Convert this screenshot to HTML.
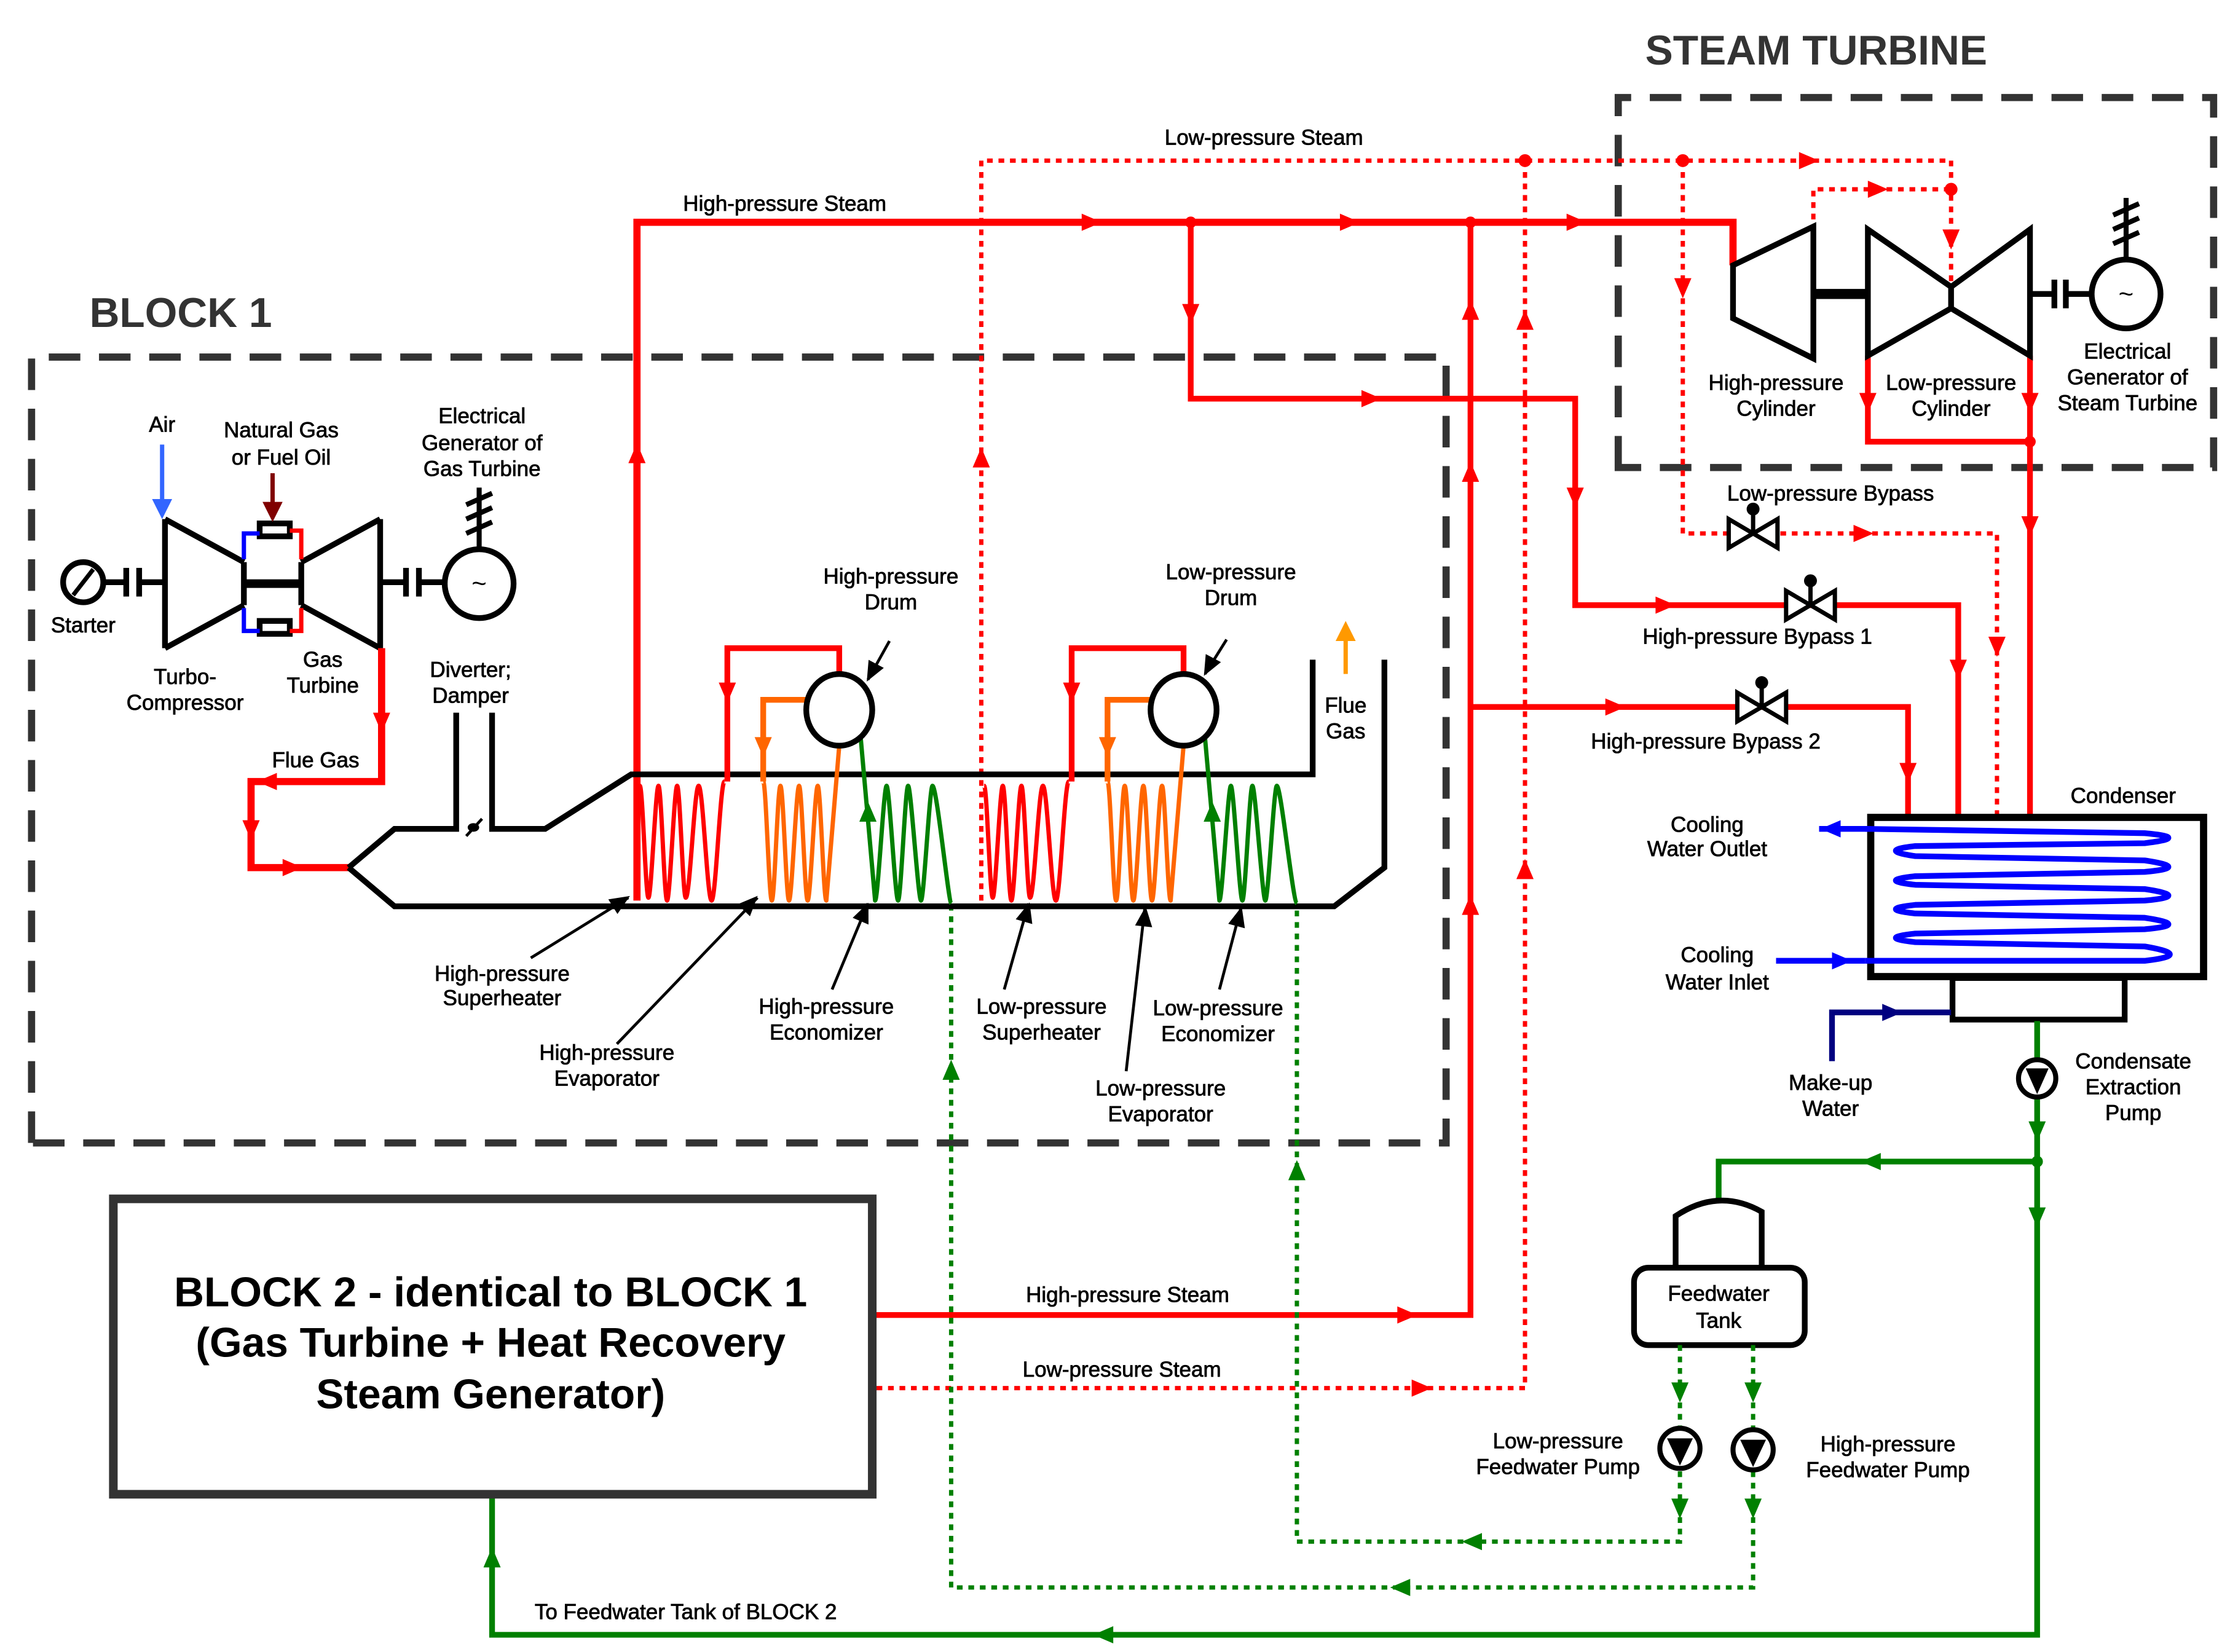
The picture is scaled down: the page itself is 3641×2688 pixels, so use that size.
<!DOCTYPE html>
<html><head><meta charset="utf-8"><style>html,body{margin:0;padding:0;background:#fff}svg{display:block}text{font-family:"Liberation Sans Narrow","Liberation Sans",sans-serif;font-size:15px;fill:#000;stroke:#000;stroke-width:0.35;text-anchor:middle}</style></head>
<body>
<svg width="3641" height="2688" viewBox="0 0 1560 1152" preserveAspectRatio="none" xmlns="http://www.w3.org/2000/svg">
<defs>
<path id="a" d="M-8,-6 L6,0 L-8,6 Z"/>
</defs>
<rect width="1560" height="1152" fill="#fff"/>

<g fill="none" stroke="#333" stroke-width="5" stroke-dasharray="22 13">
<path d="M22,797 L22,249 L1008,249 L1008,797 Z"/>
<path d="M1128,326 L1128,68 L1543,68 L1543,326 Z"/>
</g>
<text x="126" y="228" style="font-family:'Liberation Sans',sans-serif;font-size:29px;font-weight:bold;fill:#333;stroke:none">BLOCK 1</text>
<text x="1266" y="45" style="font-family:'Liberation Sans',sans-serif;font-size:29px;font-weight:bold;fill:#333;stroke:none">STEAM TURBINE</text>

<g fill="none" stroke="#f00" stroke-linejoin="miter">
<path d="M444,628 L444,155 L1208,155 L1208,185" stroke-width="5"/>
<path d="M830,155 L830,278 L1098,278 L1098,422 L1365,422 L1365,568" stroke-width="4"/>
<path d="M1025,155 L1025,917 L610,917" stroke-width="4"/>
<path d="M1025,493 L1330,493 L1330,568" stroke-width="4"/>
<path d="M1302,248 L1302,308 L1415,308 M1415,248 L1415,568" stroke-width="4"/>
</g>
<g fill="#f00">
<use href="#a" transform="translate(444,315) rotate(-90)"/>
<use href="#a" transform="translate(762,155)"/>
<use href="#a" transform="translate(942,155)"/>
<use href="#a" transform="translate(1100,155)"/>
<use href="#a" transform="translate(830,220) rotate(90)"/>
<use href="#a" transform="translate(957,278)"/>
<use href="#a" transform="translate(1098,348) rotate(90)"/>
<use href="#a" transform="translate(1162,422)"/>
<use href="#a" transform="translate(1365,468) rotate(90)"/>
<use href="#a" transform="translate(1025,215) rotate(-90)"/>
<use href="#a" transform="translate(1025,328) rotate(-90)"/>
<use href="#a" transform="translate(1025,630) rotate(-90)"/>
<use href="#a" transform="translate(982,917)"/>
<use href="#a" transform="translate(1127,493)"/>
<use href="#a" transform="translate(1330,540) rotate(90)"/>
<use href="#a" transform="translate(1302,282) rotate(90)"/>
<use href="#a" transform="translate(1415,282) rotate(90)"/>
<use href="#a" transform="translate(1415,368) rotate(90)"/>
<circle cx="830" cy="155" r="4"/><circle cx="1025" cy="155" r="4"/><circle cx="1415" cy="308" r="4"/>
</g>

<g fill="none" stroke="#f00" stroke-width="3" stroke-dasharray="4 4">
<path d="M684,628 L684,112 L1360,112 L1360,200"/>
<path d="M1264,185 L1264,132 L1360,132"/>
<path d="M1063,112 L1063,968 L610,968"/>
<path d="M1173,112 L1173,372 L1392,372 L1392,568"/>
</g>
<g fill="#f00">
<use href="#a" transform="translate(684,318) rotate(-90)"/>
<use href="#a" transform="translate(1262,112)"/>
<use href="#a" transform="translate(1310,132)"/>
<use href="#a" transform="translate(1360,168) rotate(90)"/>
<use href="#a" transform="translate(1063,222) rotate(-90)"/>
<use href="#a" transform="translate(1063,605) rotate(-90)"/>
<use href="#a" transform="translate(992,968)"/>
<use href="#a" transform="translate(1173,202) rotate(90)"/>
<use href="#a" transform="translate(1300,372)"/>
<use href="#a" transform="translate(1392,452) rotate(90)"/>
<circle cx="1063" cy="112" r="4.5"/><circle cx="1173" cy="112" r="4.5"/><circle cx="1360" cy="132" r="4.5"/>
</g>

<g stroke="#000" stroke-width="3" fill="#fff">
<path d="M1205,362 L1222,372 L1205,382 Z M1239,362 L1222,372 L1239,382 Z"/>
<path d="M1245,412 L1262,422 L1245,432 Z M1279,412 L1262,422 L1279,432 Z"/>
<path d="M1211,483 L1228,493 L1211,503 Z M1245,483 L1228,493 L1245,503 Z"/>
<path d="M1222,372 V357 M1262,422 V407 M1228,493 V478"/>
</g>
<g fill="#000"><circle cx="1222" cy="355" r="4.5"/><circle cx="1262" cy="405" r="4.5"/><circle cx="1228" cy="476" r="4.5"/></g>
<text x="1276" y="349">Low-pressure Bypass</text>
<text x="1225" y="449">High-pressure Bypass 1</text>
<text x="1189" y="522">High-pressure Bypass 2</text>
<text x="547" y="147">High-pressure Steam</text>
<text x="881" y="101">Low-pressure Steam</text>
<text x="786" y="908">High-pressure Steam</text>
<text x="782" y="960">Low-pressure Steam</text>

<g fill="none" stroke="#000" stroke-width="4">
<path d="M1208,185 L1264,158 L1264,250 L1208,222 Z"/>
<path d="M1302,160 L1360,200 L1415,160 L1415,248 L1360,215 L1302,248 Z M1360,200 V215"/>
<path d="M1415,205 H1432 M1440,205 H1458"/>
<path d="M1432,195 V215 M1440,195 V215"/>
<circle cx="1482" cy="205" r="24" fill="#fff"/>
<path d="M1482,181 V138 M1473,150 L1491,142 M1473,160 L1491,152 M1473,170 L1491,162" stroke-width="3.5"/>
</g>
<path d="M1264,205 H1302" stroke="#000" stroke-width="7"/>
<text x="1482" y="211" style="font-size:18px;stroke:none">~</text>
<text x="1238" y="272">High-pressure</text><text x="1238" y="290">Cylinder</text>
<text x="1360" y="272">Low-pressure</text><text x="1360" y="290">Cylinder</text>
<text x="1483" y="250">Electrical</text><text x="1483" y="268">Generator of</text><text x="1483" y="286">Steam Turbine</text>

<rect x="1304" y="570" width="232" height="111" fill="#fff" stroke="#000" stroke-width="5"/>
<rect x="1361" y="682" width="120" height="29" fill="#fff" stroke="#000" stroke-width="4"/>
<path d="M1300,578 L1495,581 Q1528,584 1495,588 L1335,590 Q1308,593 1335,597 L1495,600 Q1528,605 1495,608 L1335,611 Q1308,614 1335,617 L1495,620 Q1528,625 1495,628 L1335,631 Q1308,634 1335,637 L1495,640 Q1528,645 1495,648 L1335,651 Q1308,654 1335,657 L1495,660 Q1530,666 1495,670 L1300,670" fill="none" stroke="#00f" stroke-width="4" stroke-linejoin="round"/>
<path d="M1304,578 L1268,578 M1238,670 L1300,670" stroke="#00f" stroke-width="4"/>
<g fill="#00f"><use href="#a" transform="translate(1275,578) rotate(180)"/><use href="#a" transform="translate(1285,670)"/></g>
<text x="1480" y="560">Condenser</text>
<text x="1190" y="580">Cooling</text><text x="1190" y="597">Water Outlet</text>
<text x="1197" y="671">Cooling</text><text x="1197" y="690">Water Inlet</text>
<path d="M1277,740 V706 H1360" fill="none" stroke="#000080" stroke-width="4"/>
<use href="#a" transform="translate(1320,706)" fill="#000080"/>
<text x="1276" y="760">Make-up</text><text x="1276" y="778">Water</text>

<g fill="none" stroke="#008000" stroke-width="4">
<path d="M1420,712 V1140 H343 V1043"/>
<path d="M1420,810 H1198 V845"/>
</g>
<g fill="#008000">
<use href="#a" transform="translate(1420,790) rotate(90)"/>
<use href="#a" transform="translate(1420,850) rotate(90)"/>
<use href="#a" transform="translate(1303,810) rotate(180)"/>
<use href="#a" transform="translate(768,1140) rotate(180)"/>
<use href="#a" transform="translate(343,1085) rotate(-90)"/>
<circle cx="1420" cy="810" r="4"/>
</g>
<text x="1487" y="745">Condensate</text><text x="1487" y="763">Extraction</text><text x="1487" y="781">Pump</text>
<text x="478" y="1129">To Feedwater Tank of BLOCK 2</text>

<path d="M1168,884 V848 Q1198,828 1228,845 V884" fill="#fff" stroke="#000" stroke-width="4"/>
<rect x="1139" y="884" width="119" height="54" rx="10" fill="#fff" stroke="#000" stroke-width="4"/>
<text x="1198" y="907">Feedwater</text><text x="1198" y="926">Tank</text>

<g fill="none" stroke="#008000" stroke-width="3" stroke-dasharray="4 4">
<path d="M1171,938 V1075 H904 V630"/>
<path d="M1222,938 V1107 H663 V630"/>
</g>
<g fill="#008000">
<use href="#a" transform="translate(1171,972) rotate(90)"/>
<use href="#a" transform="translate(1222,972) rotate(90)"/>
<use href="#a" transform="translate(1171,1053) rotate(90)"/>
<use href="#a" transform="translate(1222,1053) rotate(90)"/>
<use href="#a" transform="translate(1025,1075) rotate(180)"/>
<use href="#a" transform="translate(975,1107) rotate(180)"/>
<use href="#a" transform="translate(904,815) rotate(-90)"/>
<use href="#a" transform="translate(663,745) rotate(-90)"/>
</g>
<g stroke="#000" stroke-width="3.5" fill="#fff">
<circle cx="1171" cy="1010" r="14"/><circle cx="1222" cy="1011" r="14"/><circle cx="1420" cy="752" r="13"/>
</g>
<g fill="#000">
<path d="M1162,1003 H1180 L1171,1022 Z"/><path d="M1213,1004 H1231 L1222,1023 Z"/><path d="M1412,745 H1428 L1420,763 Z"/>
</g>
<text x="1086" y="1010">Low-pressure</text><text x="1086" y="1028">Feedwater Pump</text>
<text x="1316" y="1012">High-pressure</text><text x="1316" y="1030">Feedwater Pump</text>

<rect x="79" y="836" width="529" height="206" fill="#fff" stroke="#333" stroke-width="6"/>
<text x="342" y="911" style="font-family:'Liberation Sans',sans-serif;font-size:29px;font-weight:bold;stroke:none">BLOCK 2 - identical to BLOCK 1</text>
<text x="342" y="946" style="font-family:'Liberation Sans',sans-serif;font-size:29px;font-weight:bold;stroke:none">(Gas Turbine + Heat Recovery</text>
<text x="342" y="982" style="font-family:'Liberation Sans',sans-serif;font-size:29px;font-weight:bold;stroke:none">Steam Generator)</text>

<g fill="none" stroke="#000" stroke-width="4">
<path d="M115,362 L170,392 M115,452 L170,422 M115,362 V452"/>
<path d="M265,362 L210,392 M265,452 L210,422 M265,362 V452"/>
<path d="M170,392 V422 M210,392 V422"/>
<path d="M72,406 H88 M98,406 H115 M265,406 H283 M293,406 H310"/>
<path d="M88,396 V416 M97,396 V416 M283,396 V416 M292,396 V416"/>
<circle cx="58" cy="406" r="14" fill="#fff"/><path d="M51,415 L65,397" stroke-width="3"/>
<circle cx="334" cy="407" r="24" fill="#fff"/>
<path d="M334,383 V340 M325,352 L343,344 M325,362 L343,354 M325,372 L343,364" stroke-width="3.5"/>
<rect x="181" y="365" width="21" height="9" stroke-width="4"/>
<rect x="181" y="433" width="21" height="9" stroke-width="4"/>
</g>
<path d="M170,407 H210" stroke="#000" stroke-width="6"/>
<text x="334" y="413" style="font-size:18px;stroke:none">~</text>
<path d="M170,390 V372 H181 M170,424 V440 H181" fill="none" stroke="#00f" stroke-width="3"/>
<path d="M202,370 H210 V390 M210,424 V440 H202" fill="none" stroke="#f00" stroke-width="3"/>
<path d="M113,310 V350" stroke="#3366ff" stroke-width="3"/><path d="M106,348 H120 L113,362 Z" fill="#3366ff"/>
<path d="M190,330 V352" stroke="#800000" stroke-width="3"/><path d="M183,350 H197 L190,364 Z" fill="#800000"/>
<text x="113" y="301">Air</text>
<text x="196" y="305">Natural Gas</text><text x="196" y="324">or Fuel Oil</text>
<text x="336" y="295">Electrical</text><text x="336" y="314">Generator of</text><text x="336" y="332">Gas Turbine</text>
<text x="58" y="441">Starter</text>
<text x="129" y="477">Turbo-</text><text x="129" y="495">Compressor</text>
<text x="225" y="465">Gas</text><text x="225" y="483">Turbine</text>
<text x="328" y="472">Diverter;</text><text x="328" y="490">Damper</text>
<text x="220" y="535">Flue Gas</text>

<path d="M266,452 V545 H175 V605 H243" fill="none" stroke="#f00" stroke-width="5"/>
<g fill="#f00">
<use href="#a" transform="translate(266,505) rotate(90)"/>
<use href="#a" transform="translate(185,545) rotate(180)"/>
<use href="#a" transform="translate(175,580) rotate(90)"/>
<use href="#a" transform="translate(205,605)"/>
</g>

<g fill="none" stroke="#000" stroke-width="4">
<path d="M243,605 L275,578 H318 V497 M343,497 V578 H380 L440,540 H915 V460"/>
<path d="M243,605 L275,632 H930 L965,605 V460"/>
</g>
<ellipse cx="330" cy="577" rx="4" ry="3" fill="#000"/><path d="M325,583 L336,571" stroke="#000" stroke-width="2"/>
<path d="M938,470 V445" stroke="#ff9900" stroke-width="3"/><path d="M931,447 H945 L938,433 Z" fill="#ff9900"/>
<text x="938" y="497">Flue</text><text x="938" y="515">Gas</text>

<g fill="none" stroke-width="3" stroke-linejoin="round">
<path stroke="#f00" d="M446,548 C448,548 450,626 452,626 C454,626 457,548 459,548 C461,548 463,628 465,628 C467,628 470,548 472,548 C474,548 476,626 478,626 C481,626 484,548 487,548 C490,548 493,628 496,628 C499,628 502,545 505,545"/>
<path stroke="#ff6600" d="M532,545 C534,545 536,628 538,628 C540,628 542,548 544,548 C546,548 548,628 550,628 C552,628 555,548 557,548 C559,548 561,628 563,628 C565,628 568,548 570,548 C572,548 574,628 576,628 L585,520"/>
<path stroke="#008000" d="M600,515 L610,628 C612,628 616,548 618,548 C620,548 624,628 626,628 C628,628 631,548 633,548 C635,548 640,628 642,628 C644,628 648,548 650,548 C653,548 661,628 663,630"/>
<g transform="translate(240,0)">
<path stroke="#f00" d="M446,548 C448,548 450,626 452,626 C454,626 457,548 459,548 C461,548 463,628 465,628 C467,628 470,548 472,548 C474,548 476,626 478,626 C481,626 484,548 487,548 C490,548 493,628 496,628 C499,628 502,545 505,545"/>
<path stroke="#ff6600" d="M532,545 C534,545 536,628 538,628 C540,628 542,548 544,548 C546,548 548,628 550,628 C552,628 555,548 557,548 C559,548 561,628 563,628 C565,628 568,548 570,548 C572,548 574,628 576,628 L585,520"/>
<path stroke="#008000" d="M600,515 L610,628 C612,628 616,548 618,548 C620,548 624,628 626,628 C628,628 631,548 633,548 C635,548 640,628 642,628 C644,628 648,548 650,548 C653,548 661,628 664,630"/>
</g>
</g>
<g fill="none" stroke-width="4">
<path stroke="#f00" d="M507,545 V452 H585 V471"/>
<path stroke="#ff6600" d="M562,488 H532 V545"/>
<path stroke="#f00" d="M747,545 V452 H825 V471"/>
<path stroke="#ff6600" d="M802,488 H772 V545"/>
</g>
<g>
<use href="#a" transform="translate(507,484) rotate(90)" fill="#f00"/>
<use href="#a" transform="translate(532,522) rotate(90)" fill="#ff6600"/>
<use href="#a" transform="translate(605,565) rotate(-90)" fill="#008000"/>
<use href="#a" transform="translate(747,484) rotate(90)" fill="#f00"/>
<use href="#a" transform="translate(772,522) rotate(90)" fill="#ff6600"/>
<use href="#a" transform="translate(845,565) rotate(-90)" fill="#008000"/>
</g>
<g fill="#fff" stroke="#000" stroke-width="4">
<ellipse cx="585" cy="495" rx="23" ry="25"/>
<ellipse cx="825" cy="495" rx="23" ry="25"/>
</g>

<g stroke="#000" stroke-width="2" fill="none">
<path d="M370,668 L438,626 M430,728 L528,626 M580,690 L605,630 M700,690 L717,630 M785,747 L798,633 M850,690 L865,633 M605,474 L620,447 M840,470 L855,446"/>
</g>
<g fill="#000">
<use href="#a" transform="translate(434,628) rotate(-32)"/>
<use href="#a" transform="translate(524,629) rotate(-46)"/>
<use href="#a" transform="translate(603,635) rotate(-67)"/>
<use href="#a" transform="translate(716,635) rotate(-74)"/>
<use href="#a" transform="translate(798,638) rotate(-84)"/>
<use href="#a" transform="translate(864,638) rotate(-75)"/>
<use href="#a" transform="translate(607,470) rotate(118)"/>
<use href="#a" transform="translate(842,466) rotate(118)"/>
</g>
<text x="350" y="684">High-pressure</text><text x="350" y="701">Superheater</text>
<text x="423" y="739">High-pressure</text><text x="423" y="757">Evaporator</text>
<text x="576" y="707">High-pressure</text><text x="576" y="725">Economizer</text>
<text x="726" y="707">Low-pressure</text><text x="726" y="725">Superheater</text>
<text x="849" y="708">Low-pressure</text><text x="849" y="726">Economizer</text>
<text x="809" y="764">Low-pressure</text><text x="809" y="782">Evaporator</text>
<text x="621" y="407">High-pressure</text><text x="621" y="425">Drum</text>
<text x="858" y="404">Low-pressure</text><text x="858" y="422">Drum</text>
</svg>
</body></html>
